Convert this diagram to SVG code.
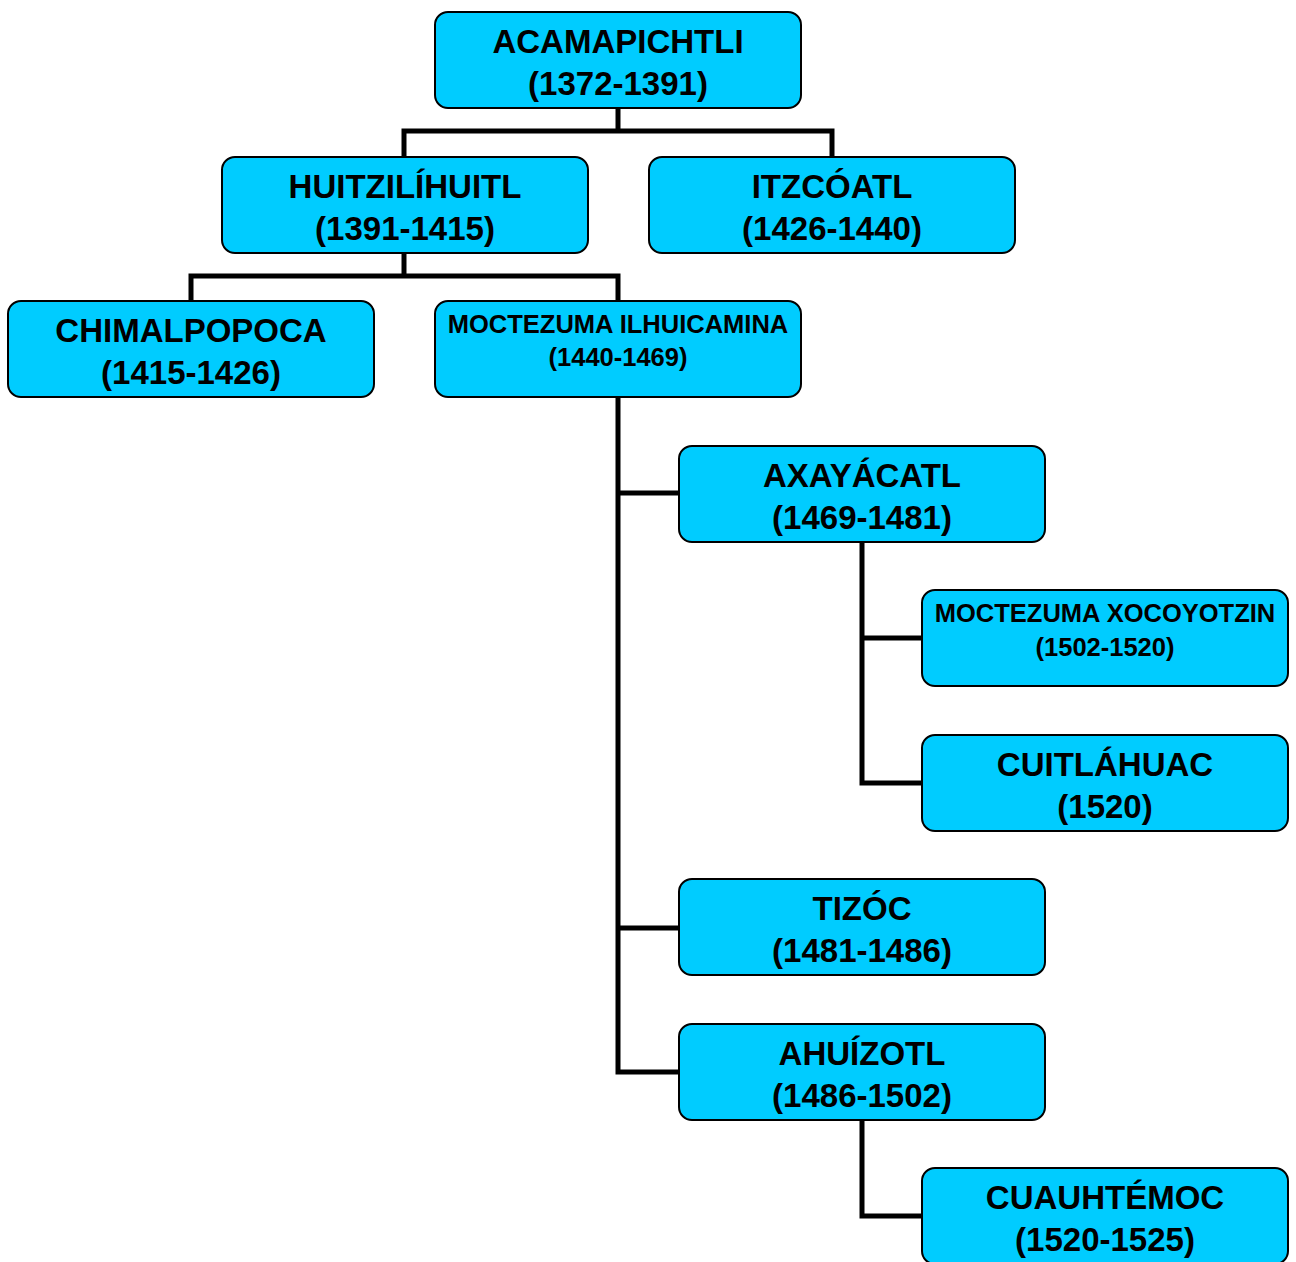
<svg xmlns="http://www.w3.org/2000/svg" width="1296" height="1262" viewBox="0 0 1296 1262">
<style>
.box{fill:#00CCFF;stroke:#000;stroke-width:2}
.t{font-family:"Liberation Sans",Arial,sans-serif;font-weight:bold;font-size:33px;text-anchor:middle;fill:#000}
.s{font-family:"Liberation Sans",Arial,sans-serif;font-weight:bold;font-size:25.5px;text-anchor:middle;fill:#000}
.c{fill:none;stroke:#000;stroke-width:5}
</style>
<rect width="1296" height="1262" fill="#fff"/>
<g id="connectors">
<polyline class="c" points="618,108 618,131"/>
<polyline class="c" points="404,157 404,131 832,131 832,157"/>
<polyline class="c" points="404,253 404,276"/>
<polyline class="c" points="191,301 191,276 618,276 618,301"/>
<polyline class="c" points="618,397 618,1072 679,1072"/>
<polyline class="c" points="618,493 679,493"/>
<polyline class="c" points="618,928 679,928"/>
<polyline class="c" points="862,542 862,783 922,783"/>
<polyline class="c" points="862,638 922,638"/>
<polyline class="c" points="862,1120 862,1216 922,1216"/>
</g>
<g id="acamapichtli"><rect class="box" x="435" y="12" width="366" height="96" rx="13"/><text class="t" x="618" y="53">ACAMAPICHTLI</text><text class="t" x="618" y="95">(1372-1391)</text></g>
<g id="huitzilihuitl"><rect class="box" x="222" y="157" width="366" height="96" rx="13"/><text class="t" x="405" y="198">HUITZILÍHUITL</text><text class="t" x="405" y="240">(1391-1415)</text></g>
<g id="itzcoatl"><rect class="box" x="649" y="157" width="366" height="96" rx="13"/><text class="t" x="832" y="198">ITZCÓATL</text><text class="t" x="832" y="240">(1426-1440)</text></g>
<g id="chimalpopoca"><rect class="box" x="8" y="301" width="366" height="96" rx="13"/><text class="t" x="191" y="342">CHIMALPOPOCA</text><text class="t" x="191" y="384">(1415-1426)</text></g>
<g id="moctezuma-ilhuicamina"><rect class="box" x="435" y="301" width="366" height="96" rx="13"/><text class="s" x="618" y="333">MOCTEZUMA ILHUICAMINA</text><text class="s" x="618" y="366">(1440-1469)</text></g>
<g id="axayacatl"><rect class="box" x="679" y="446" width="366" height="96" rx="13"/><text class="t" x="862" y="487">AXAYÁCATL</text><text class="t" x="862" y="529">(1469-1481)</text></g>
<g id="moctezuma-xocoyotzin"><rect class="box" x="922" y="590" width="366" height="96" rx="13"/><text class="s" x="1105" y="622">MOCTEZUMA XOCOYOTZIN</text><text class="s" x="1105" y="656">(1502-1520)</text></g>
<g id="cuitlahuac"><rect class="box" x="922" y="735" width="366" height="96" rx="13"/><text class="t" x="1105" y="776">CUITLÁHUAC</text><text class="t" x="1105" y="818">(1520)</text></g>
<g id="tizoc"><rect class="box" x="679" y="879" width="366" height="96" rx="13"/><text class="t" x="862" y="920">TIZÓC</text><text class="t" x="862" y="962">(1481-1486)</text></g>
<g id="ahuizotl"><rect class="box" x="679" y="1024" width="366" height="96" rx="13"/><text class="t" x="862" y="1065">AHUÍZOTL</text><text class="t" x="862" y="1107">(1486-1502)</text></g>
<g id="cuauhtemoc"><rect class="box" x="922" y="1168" width="366" height="96" rx="13"/><text class="t" x="1105" y="1209">CUAUHTÉMOC</text><text class="t" x="1105" y="1251">(1520-1525)</text></g>
</svg>
